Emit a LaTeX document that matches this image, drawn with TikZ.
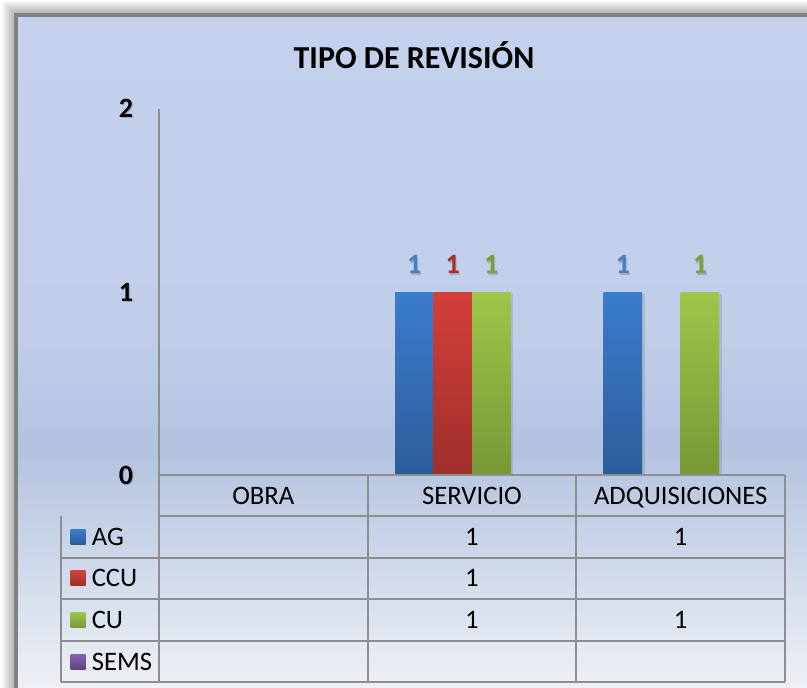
\documentclass[tikz,border=0pt]{standalone}
\usepackage{fontspec}
\setmainfont{Carlito}
\definecolor{gridgray}{HTML}{8E8E8E}
\definecolor{framegray}{HTML}{808080}
\definecolor{blueT}{HTML}{3A7CCE}
\definecolor{blueB}{HTML}{2D5D9A}
\definecolor{redT}{HTML}{D43F3A}
\definecolor{redB}{HTML}{9E2F2B}
\definecolor{greenT}{HTML}{9EC64A}
\definecolor{greenB}{HTML}{779836}
\definecolor{purT}{HTML}{8463AD}
\definecolor{purB}{HTML}{5F4580}
\definecolor{lblblue}{HTML}{4A7EC2}
\definecolor{lblred}{HTML}{A8302C}
\definecolor{lblgreen}{HTML}{7D9D38}
\pgfdeclareverticalshading{bgshade}{100bp}{rgb(0bp)=(0.937,0.945,0.965); rgb(25bp)=(0.937,0.945,0.965); rgb(26.6bp)=(0.933,0.941,0.961); rgb(43.7bp)=(0.702,0.765,0.875); rgb(52.3bp)=(0.753,0.808,0.918); rgb(75bp)=(0.765,0.820,0.925); rgb(100bp)=(0.765,0.820,0.925)}
\begin{document}
\begin{tikzpicture}[x=0.75pt,y=-0.75pt,
  tabtxt/.style={font=\fontsize{20}{24}\selectfont, inner sep=0pt, text depth=0pt, anchor=center},
  legtxt/.style={font=\fontsize{20}{24}\selectfont, inner sep=0pt, text depth=0pt, anchor=west},
  axlbl/.style={font=\fontsize{21}{25}\selectfont\bfseries, inner sep=0pt, text depth=0pt, anchor=east},
  dlbl/.style={font=\fontsize{21}{25}\selectfont\bfseries, inner sep=0pt, text depth=0pt, anchor=center},
  txtshadow/.style={text=black, opacity=0.18},
  gridline/.style={draw=gridgray, line width=1.5pt},
  barshadow/.style={fill=black, opacity=0.10},
  legkey/.style={draw=none, minimum size=11.25pt, inner sep=0pt},
]
\useasboundingbox (0,0) rectangle (807,688);
\fill[white] (0,0) rectangle (807,688);
% outer soft shadow of the chart frame
\foreach \i in {1,...,14} {
  \fill[black, opacity=0.022] (16-\i,15-\i) rectangle (900,900);
}
% chart area
\shade[shading=bgshade] (16,15.5) rectangle (840,710);
\draw[framegray, line width=3pt] (16,15.5) rectangle (840,710);

% title
\node[font=\fontsize{24}{28}\selectfont\bfseries, inner sep=0pt, text depth=0pt] (title) at (414,55) {TIPO DE REVISIÓN};

% axis labels
\foreach \v/\yy in {2/108,1/292,0/475} {
  \node[axlbl, txtshadow] at (134.5,\yy+1.5) {\v};
  \node[axlbl] (y\v) at (133.3,\yy) {\v};
}

% bars (value 1 -> y=292, value 0 -> y=475); bar width 38.5
\fill[barshadow] (397,294) rectangle (513,476);
\fill[barshadow] (606,294) rectangle (645,476);
\fill[barshadow] (682.5,294) rectangle (721.5,476);
% SERVICIO
\shade[top color=blueT, bottom color=blueB] (395,292) rectangle (433.5,475);
\shade[top color=redT, bottom color=redB] (433.5,292) rectangle (472,475);
\shade[top color=greenT, bottom color=greenB] (472,292) rectangle (510.5,475);
% ADQUISICIONES
\shade[top color=blueT, bottom color=blueB] (603.7,292) rectangle (642.2,475);
\shade[top color=greenT, bottom color=greenB] (680.7,292) rectangle (719.2,475);

% data labels
\foreach \xx/\c/\nm in {414.25/lblblue/dA, 452.75/lblred/dB, 491.25/lblgreen/dC, 622.95/lblblue/dD, 699.95/lblgreen/dE} {
  \node[dlbl, txtshadow] at (\xx+1,266) {1};
  \node[dlbl, text=\c] (\nm) at (\xx,264) {1};
}

% axis / table grid
\draw[gridline] (159,109) -- (159,682);
\draw[gridline] (159,475) -- (785,475);
\draw[gridline] (159,516) -- (785,516);
\foreach \yy in {557.5,599,641,682} {
  \draw[gridline] (61,\yy) -- (785,\yy);
}
\draw[gridline] (61,516) -- (61,682);
\foreach \xx in {367.7,576.3,785} {
  \draw[gridline] (\xx,475) -- (\xx,682);
}

% header row
\node[tabtxt] (hObra) at (263.3,495.5) {OBRA};
\node[tabtxt] (hServ) at (472,495.5) {SERVICIO};
\node[tabtxt] (hAdq) at (680.7,495.5) {ADQUISICIONES};

% legend column
\node[legkey, top color=blueT, bottom color=blueB] (kAG) at (78,536.8) {};
\node[legkey, top color=redT, bottom color=redB] (kCCU) at (78,578.3) {};
\node[legkey, top color=greenT, bottom color=greenB] (kCU) at (78,620) {};
\node[legkey, top color=purT, bottom color=purB] (kSEMS) at (78,661.5) {};
\node[legtxt] (lAG) at (91.5,536.8) {AG};
\node[legtxt] (lCCU) at (91.5,578.3) {CCU};
\node[legtxt] (lCU) at (91.5,620) {CU};
\node[legtxt] (lSEMS) at (91.5,661.5) {SEMS};

% values
\node[tabtxt] (vAGs) at (472,536.8) {1};
\node[tabtxt] (vAGa) at (680.7,536.8) {1};
\node[tabtxt] (vCCUs) at (472,578.3) {1};
\node[tabtxt] (vCUs) at (472,620) {1};
\node[tabtxt] (vCUa) at (680.7,620) {1};
\end{tikzpicture}
\end{document}
